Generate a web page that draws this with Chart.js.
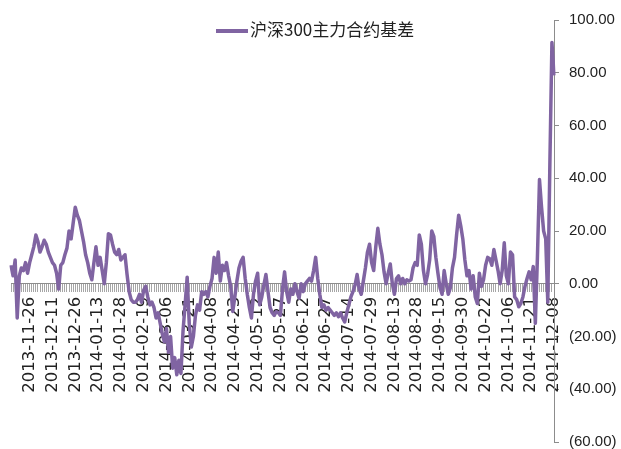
<!DOCTYPE html>
<html>
<head>
<meta charset="utf-8">
<script src="https://cdn.jsdelivr.net/npm/chart.js@4.4.1/dist/chart.umd.min.js"></script>
<style>
  body { margin: 0; background: #fff; }
</style>
</head>
<body>
<canvas id="basisChart" width="621" height="449"></canvas>
<script>
const basisChart = document.getElementById('basisChart');

const seriesName = '沪深300主力合约基差';

// labelled trading days (every 11th session, starting at the 10th point)
const tickDates = ['2013-11-26', '2013-12-11', '2013-12-26', '2014-01-13', '2014-01-28',
  '2014-02-19', '2014-03-06', '2014-03-21', '2014-04-08', '2014-04-23', '2014-05-12',
  '2014-05-27', '2014-06-12', '2014-06-27', '2014-07-14', '2014-07-29', '2014-08-13',
  '2014-08-28', '2014-09-15', '2014-09-30', '2014-10-22', '2014-11-06', '2014-11-21',
  '2014-12-08'];
const firstTick = 9;
const tickEvery = 11;

// daily basis
const basis = [
  7, 3, 9, -13, 3, 6, 5, 8, 4, 8,
  11, 14, 18.5, 16, 12, 14, 16.5, 15, 12, 10,
  8, 7, 4, -2, 7, 8, 11, 13.5, 20, 17,
  23, 29, 26, 24, 20, 16, 11, 8, 4, 1.5,
  8, 14, 7, 10, 5, 0, 8, 19, 18.5, 15,
  12, 11, 13, 9, 10, 11, 3.5, -3, -6, -7,
  -7, -6, -4, -7, -2.5, -1, -5, -8, -7, -9,
  -13, -11, -15, -19, -22, -17, -26, -20, -32, -28,
  -34.5, -29, -34, -18, -8, 2.5, -15, -24, -20, -12,
  -8, -10, -3, -4, -3, -5, -1, 2, 10, 4,
  12, 1, 7, 5, 8, 3, -1, -10.5, -5, 1,
  6, 8.5, 10, 2, -4, -9, -13, -4, 1, 4,
  -8, -5, -0.5, 3.5, -3, -9, -11, -12, -10.6, -11,
  -12, -2, 4.5, -3, -7, -2, -4, 0, -3, -5.5,
  0, -3, 0, 1, 2, 1, 5, 10, 2, -4,
  -9, -8, -10, -9, -10, -11, -12, -11, -12.5, -11,
  -13, -14.5, -11, -8, -5, -3, -0.5, 3.5, -2, -4,
  1, 6, 12, 15, 8, 5, 14, 21, 15, 11,
  4.5, 0, 4, 7.5, 0, -4, 2, 3, 0, 2,
  0, 1.5, 1, 1.5, 6, 8, 7, 18.5, 15, 5,
  0, 3.5, 9, 20, 18, 10, 4, -1.5, -4, 5,
  0, -4, -1.5, 6, 10, 18.5, 26, 22, 17, 9,
  3, 5, -2, 3, -5, -7.5, 4, -1, 1.5, 7,
  10, 9.5, 7, 13, 9, 5, 0, 5, 15.5, 3,
  0, 12, 11, -5, -6, -8.7, -7.5, -5, -1, 2,
  4.5, 1.5, 6.5, -15, 10, 39.5, 29, 20, 17, -7,
  45, 91.5, 79
];

const yMin = -60;
const yMax = 100;
const yStep = 20;

const lineColor = '#8064A2';

var labels = basis.map(function(v, i) {
  var k = i - firstTick;
  return (k >= 0 && k % tickEvery === 0) ? tickDates[k / tickEvery] : '';
});

function fmt(v) {
  if (v < 0) return '(' + Math.abs(v).toFixed(2) + ')';
  return v.toFixed(2);
}

// legend sits inside the plot, like the original
const legendInPlot = {
  id: 'legendInPlot',
  afterDraw(chart) {
    const ctx = chart.ctx;
    ctx.save();
    ctx.strokeStyle = lineColor;
    ctx.lineWidth = 4;
    ctx.beginPath();
    ctx.moveTo(216, 31);
    ctx.lineTo(248, 31);
    ctx.stroke();
    ctx.fillStyle = '#222';
    ctx.font = '17px "Noto Sans CJK SC"';
    ctx.textBaseline = 'middle';
    ctx.fillText(seriesName, 250, 30);
    ctx.restore();
  }
};

const chart = new Chart(basisChart, {
  type: 'line',
  data: {
    labels: labels,
    datasets: [{
      label: seriesName,
      data: basis,
      borderColor: lineColor,
      borderWidth: 3.5,
      borderJoinStyle: 'round',
      pointRadius: 0,
      tension: 0,
      fill: false
    }]
  },
  options: {
    responsive: false,
    animation: false,
    layout: { padding: { top: 20, bottom: 7, left: 11, right: 0 } },
    plugins: {
      legend: { display: false },
      tooltip: { enabled: false }
    },
    scales: {
      x: {
        position: { y: 0 },
        offset: false,
        grid: { drawOnChartArea: false, color: '#a6a6a6', tickLength: 8 },
        border: { color: '#8c8c8c', width: 1 },
        ticks: {
          autoSkip: false,
          maxRotation: 90,
          minRotation: 90,
          padding: 5,
          color: '#222',
          font: { family: 'DejaVu Sans', size: 16.5 }
        }
      },
      y: {
        position: 'right',
        min: yMin,
        max: yMax,
        afterFit: function(scale) {
          scale.width = 67;
          scale.paddingTop = 6;
          scale.paddingBottom = 6;
        },
        grid: { drawOnChartArea: false, color: '#8c8c8c', tickLength: 5 },
        border: { color: '#8c8c8c', width: 1 },
        ticks: {
          stepSize: yStep,
          padding: 10,
          color: '#222',
          font: { family: '"Liberation Sans", Arial, sans-serif', size: 15 },
          callback: function(v) { return fmt(v); }
        }
      }
    }
  },
  plugins: [legendInPlot]
});
</script>
</body>
</html>
